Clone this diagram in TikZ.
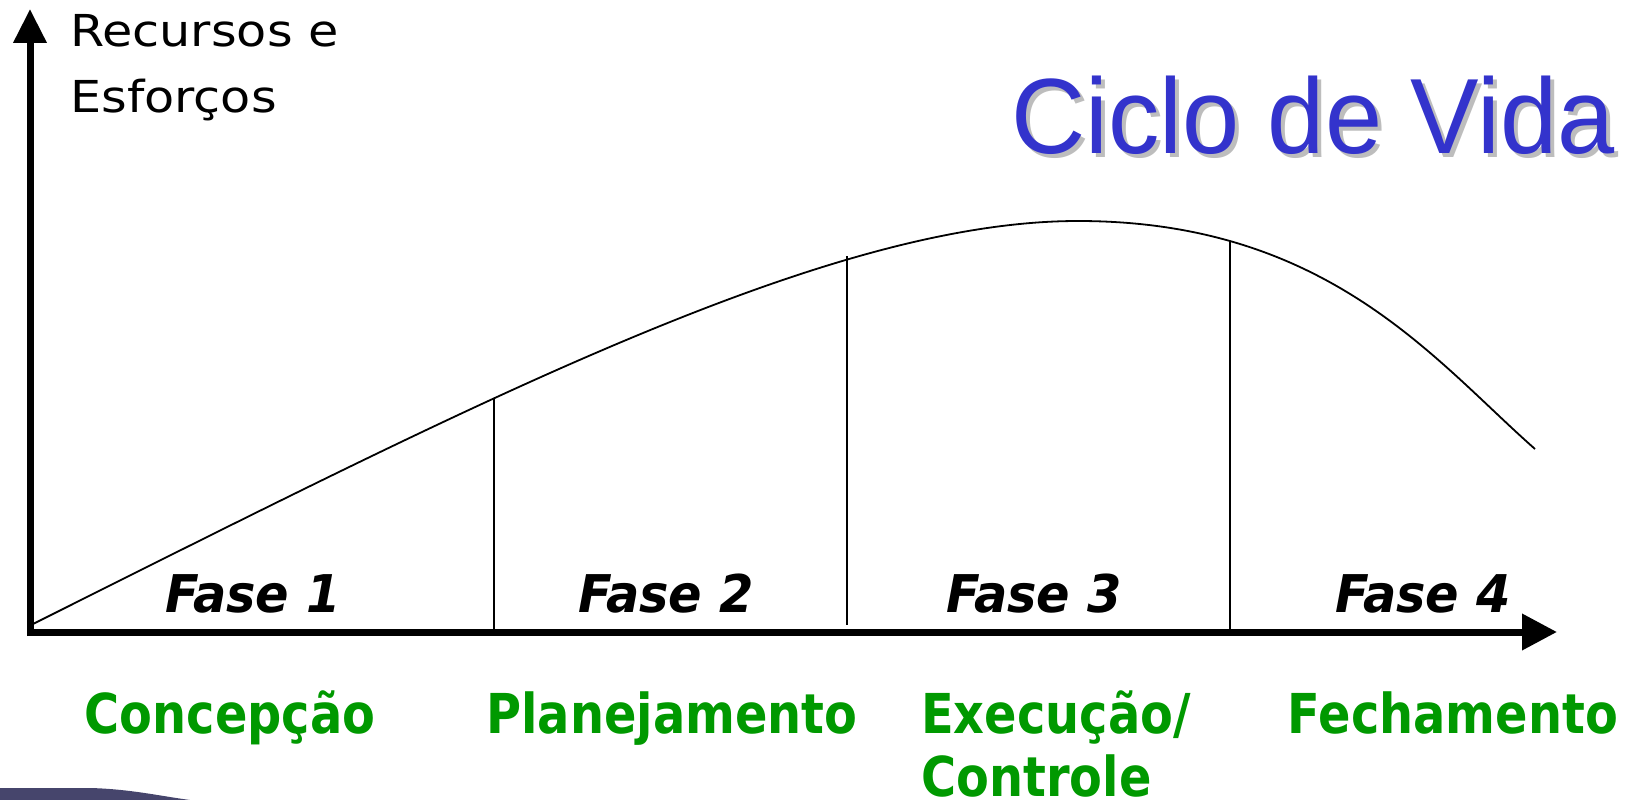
\documentclass[tikz,border=0pt]{standalone}
\usepackage{fontspec}
\setmainfont{DejaVu Sans}
\newfontfamily\regfont[FakeStretch=1.12]{DejaVu Sans}
\newfontfamily\fasefont[FakeStretch=0.95]{DejaVu Sans}
\newfontfamily\greenfont[FakeStretch=0.87]{DejaVu Sans}
\newfontfamily\titlefont[FakeStretch=0.96]{Liberation Sans}
\usetikzlibrary{arrows.meta}
\definecolor{titleblue}{HTML}{3333CC}
\definecolor{shadowgray}{HTML}{BDBDBD}
\definecolor{phasegreen}{HTML}{009900}
\definecolor{swoosh}{HTML}{46456C}
\tikzset{
  axisline/.style={line width=7pt},
  divline/.style={line width=2pt},
  curveline/.style={line width=1.8pt},
  axislabel/.style={inner sep=0pt, anchor=base west, font=\regfont\fontsize{44}{50}\selectfont},
  faselabel/.style={inner sep=0pt, anchor=base, font=\fasefont\bfseries\itshape\fontsize{52}{60}\selectfont},
  phaselabel/.style={inner sep=0pt, text=phasegreen, font=\greenfont\bfseries\fontsize{55}{65}\selectfont},
  titletext/.style={inner sep=0pt, anchor=base west, font=\titlefont\fontsize{107}{120}\selectfont}
}
\begin{document}
\begin{tikzpicture}[x=1pt,y=-1pt]
\useasboundingbox (0,0) rectangle (1634,800);
% bottom-left template swoosh
\fill[swoosh] (0,800) -- (0,788) -- (90,788) .. controls (130,789) and (160,796) .. (190,800) -- cycle;

% axes
\coordinate (origin) at (30,636);
\coordinate (ytop) at (30,9);
\coordinate (xstart) at (27,632);
\coordinate (xend) at (1557,632);
\draw[axisline,-{Triangle[width=32pt,length=34pt]}] (origin) -- (ytop);
\draw[axisline,-{Triangle[width=35pt,length=35pt]}] (xstart) -- (xend);

% curve
\coordinate (cstart) at (31,625);
\coordinate (cpeak) at (1078,221);
\coordinate (cend) at (1535,449);
\draw[curveline] (cstart) .. controls (481,400) and (828,221) .. (cpeak)
                          .. controls (1328,221) and (1435,361) .. (cend);

% dividers
\coordinate (d1t) at (494,398); \coordinate (d1b) at (494,632);
\coordinate (d2t) at (847,256); \coordinate (d2b) at (847,625);
\coordinate (d3t) at (1230,242); \coordinate (d3b) at (1230,632);
\draw[divline] (d1t) -- (d1b);
\draw[divline] (d2t) -- (d2b);
\draw[divline] (d3t) -- (d3b);

% axis label
\node[axislabel] (rec) at (70,47) {Recursos e};
\node[axislabel] (esf) at (70,113) {Esforços};

% title with shadow
\node[titletext, text=shadowgray] (titleshadow) at (1015,157) {Ciclo de Vida};
\node[titletext, text=titleblue] (title) at (1011,153) {Ciclo de Vida};

% phases
\node[faselabel] (f1) at (253,612) {Fase 1};
\node[faselabel] (f2) at (666,612) {Fase 2};
\node[faselabel] (f3) at (1034,612) {Fase 3};
\node[faselabel] (f4) at (1423,612) {Fase 4};

% phase names
\node[phaselabel, anchor=base] (p1) at (230,733) {Concepção};
\node[phaselabel, anchor=base] (p2) at (672,733) {Planejamento};
\node[phaselabel, anchor=base west] (p3) at (921,733) {Execução/};
\node[phaselabel, anchor=base west] (p3b) at (921,796) {Controle};
\node[phaselabel, anchor=base] (p4) at (1453,733) {Fechamento};
\end{tikzpicture}
\end{document}
